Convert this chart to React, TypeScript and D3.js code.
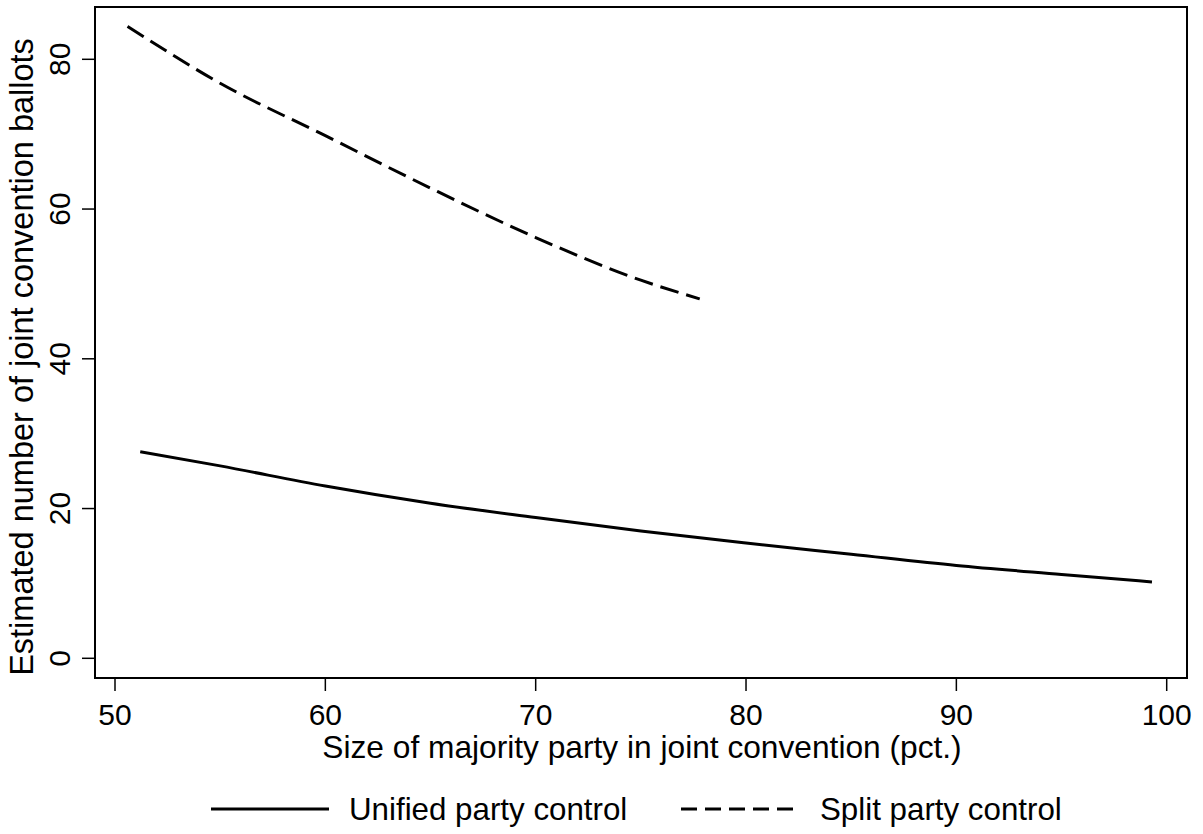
import { useMemo } from 'react';
import * as d3 from 'd3';

const W = 1203;
const H = 834;

const xTicks = [50, 60, 70, 80, 90, 100];
const yTicks = [0, 20, 40, 60, 80];

const unifiedX = [51.2, 55, 60, 65, 70, 75, 80, 85, 90, 95, 99.3];
const unifiedY = [27.6, 25.7, 23.0, 20.7, 18.8, 17.0, 15.4, 13.9, 12.4, 11.2, 10.2];

const splitX = [50.6, 55, 60, 65, 70, 75, 77.8];
const splitY = [84.4, 76.8, 69.8, 62.8, 56.2, 50.5, 48.0];

const xTitle = 'Size of majority party in joint convention (pct.)';
const yTitle = 'Estimated number of joint convention ballots';
const legendLabels = ['Unified party control', 'Split party control'];

const FONT = '"Liberation Sans", Arial, sans-serif';

export default function App() {
  const x = useMemo(() => d3.scaleLinear().domain([50, 100]).range([115, 1166.7]), []);
  const y = useMemo(() => d3.scaleLinear().domain([0, 80]).range([658.3, 59.3]), []);

  const plot = { left: 95, top: 7, right: 1187, bottom: 678 };

  const line = d3
    .line<[number, number]>()
    .x((d) => x(d[0]))
    .y((d) => y(d[1]))
    .curve(d3.curveMonotoneX);

  const unified = line(unifiedX.map((v, i) => [v, unifiedY[i]] as [number, number])) || '';
  const split = line(splitX.map((v, i) => [v, splitY[i]] as [number, number])) || '';

  return (
    <div style={{ position: 'absolute', left: 0, top: 0 }}>
      <svg width={W} height={H} style={{ display: 'block', background: '#fff' }} fontFamily={FONT}>
        <rect
          x={plot.left}
          y={plot.top}
          width={plot.right - plot.left}
          height={plot.bottom - plot.top}
          fill="none"
          stroke="#000"
          strokeWidth={2}
        />

        {xTicks.map((t) => (
          <g key={`x${t}`}>
            <line x1={x(t)} x2={x(t)} y1={plot.bottom} y2={plot.bottom + 13} stroke="#000" strokeWidth={1.5} />
            <text x={x(t)} y={725} textAnchor="middle" fontSize={30} fill="#000">
              {t}
            </text>
          </g>
        ))}

        {yTicks.map((t) => (
          <g key={`y${t}`}>
            <line x1={plot.left - 13} x2={plot.left} y1={y(t)} y2={y(t)} stroke="#000" strokeWidth={1.5} />
            <text
              transform={`translate(70,${y(t)}) rotate(-90)`}
              textAnchor="middle"
              fontSize={30}
              fill="#000"
            >
              {t}
            </text>
          </g>
        ))}

        <path d={unified} fill="none" stroke="#000" strokeWidth={3} />
        <path d={split} fill="none" stroke="#000" strokeWidth={3} strokeDasharray="19 8" />

        <text x={642} y={758} textAnchor="middle" fontSize={31.7} fill="#000">
          {xTitle}
        </text>
        <text transform={`translate(33,357) rotate(-90)`} textAnchor="middle" fontSize={32.5} fill="#000">
          {yTitle}
        </text>

        <line x1={211} x2={329} y1={809} y2={809} stroke="#000" strokeWidth={3} />
        <text x={349} y={820} fontSize={31.3} fill="#000">
          {legendLabels[0]}
        </text>
        <line x1={681} x2={798} y1={809} y2={809} stroke="#000" strokeWidth={3} strokeDasharray="16 8" />
        <text x={820} y={820} fontSize={31.3} fill="#000">
          {legendLabels[1]}
        </text>
      </svg>
    </div>
  );
}
